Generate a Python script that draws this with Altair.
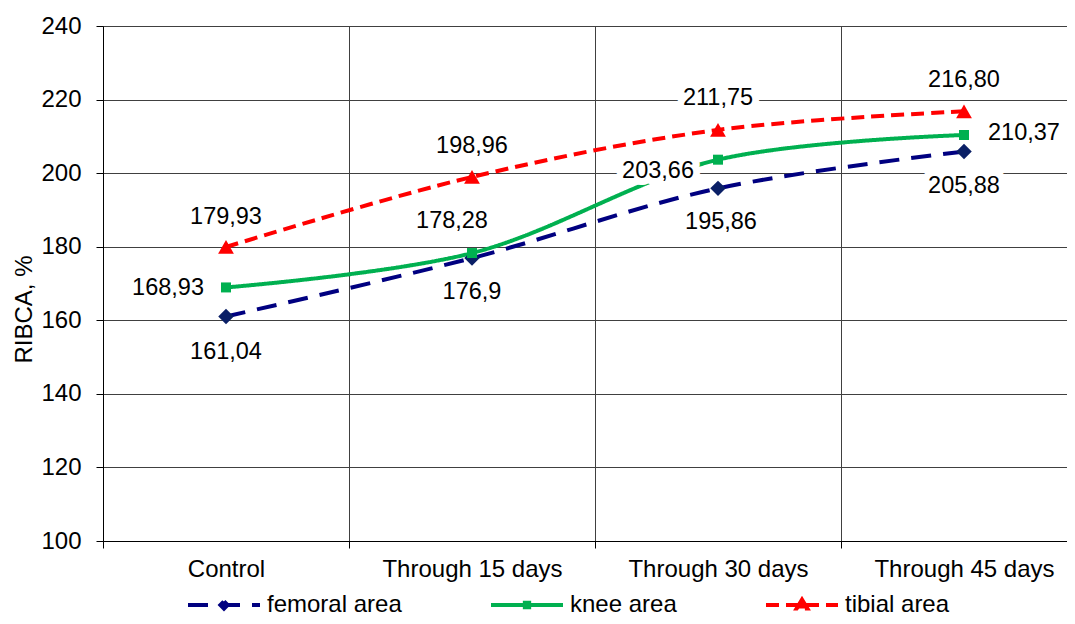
import altair as alt
import pandas as pd

categories = ["Control", "Through 15 days", "Through 30 days", "Through 45 days"]
series_names = ["femoral area", "knee area", "tibial area"]
femoral = [161.04, 176.9, 195.86, 205.88]
knee = [168.93, 178.28, 203.66, 210.37]
tibial = [179.93, 198.96, 211.75, 216.80]
femoral_labels = ["161,04", "176,9", "195,86", "205,88"]
knee_labels = ["168,93", "178,28", "203,66", "210,37"]
tibial_labels = ["179,93", "198,96", "211,75", "216,80"]
y_ticks = [100, 120, 140, 160, 180, 200, 220, 240]

rows = []
for s, vals, labs in zip(series_names, [femoral, knee, tibial],
                         [femoral_labels, knee_labels, tibial_labels]):
    for i, (c, v, l) in enumerate(zip(categories, vals, labs)):
        rows.append({"series": s, "category": c, "idx": i, "value": v, "label": l})
df = pd.DataFrame(rows)

# styling / layout
FONT = "Liberation Sans"
colors = ["#000080", "#00B050", "#FF0000"]
marker_colors = ["#0a1f66", "#00B050", "#FF0000"]
dashes = [[20, 12], [1, 0], [13, 7]]
shapes = ["diamond", "square", "triangle-up"]
sizes = [240, 100, 250]
legend_paths = [
    "M-1,0L1,0M0,-0.1L0.1,0L0,0.1L-0.1,0Z",
    "M-1,0L1,0M-0.06,-0.06L0.06,-0.06L0.06,0.06L-0.06,0.06Z",
    "M-1,0L1,0M0,-0.15L0.15,0.1L-0.15,0.1Z",
]
PLOT_W, PLOT_H = 964, 515
BAND_PX = 246  # one category interval in pixels (last interval is cut by the page edge)
x_max = -0.5 + PLOT_W / BAND_PX

n = len(categories)
x_values = sorted([i - 0.5 for i in range(n)] + list(range(n)))
cat_array = "[" + ",".join(f"'{c}'" for c in categories) + "]"
is_edge = "datum.value % 1 !== 0"

legend = alt.Legend(
    orient="none", legendX=83, legendY=541, direction="horizontal", title=None,
    labelFontSize=24, labelFont=FONT, labelColor="#000", labelOffset=5,
    columnPadding=81, symbolSize=5184, symbolStrokeWidth=4, symbolOpacity=1,
)

x_enc = alt.X(
    "idx:Q", title=None,
    scale=alt.Scale(domain=[-0.5, x_max], nice=False, zero=False),
    axis=alt.Axis(values=x_values, grid=True, gridColor="#404040", gridWidth=1,
                  gridOpacity={"condition": {"test": is_edge, "value": 1}, "value": 0},
                  tickOpacity={"condition": {"test": is_edge, "value": 1}, "value": 0},
                  labelExpr=f"datum.value % 1 === 0 ? {cat_array}[datum.value] : ''",
                  domainColor="#000", tickColor="#000", tickSize=7, labelPadding=9,
                  labelAngle=0, labelFontSize=24, labelFont=FONT, labelColor="#000",
                  labelLimit=400, labelOverlap=False, labelFlush=False),
)
y_enc = alt.Y(
    "value:Q", title="RIBCA, %",
    scale=alt.Scale(domain=[100, 240], nice=False, zero=False),
    axis=alt.Axis(values=y_ticks, grid=True, gridColor="#404040", gridWidth=1,
                  domainColor="#000", tickColor="#000", tickSize=7, labelPadding=15,
                  labelFontSize=24, labelFont=FONT, labelColor="#000",
                  titleFontSize=24, titleFont=FONT, titleFontWeight="normal",
                  titleColor="#000", titleX=-79, titleY=283, titleAngle=-90,
                  titleAlign="center", titleBaseline="middle"),
)

base = alt.Chart(df)

line_layers = []
point_layers = []
for s, col, dash, shp, sz, mc in zip(series_names, colors, dashes, shapes, sizes, marker_colors):
    sub = base.transform_filter(f"datum.series === '{s}'")
    line_layers.append(
        sub.mark_line(interpolate="catmull-rom", strokeWidth=4, stroke=col, strokeDash=dash)
        .encode(x=x_enc, y=y_enc)
    )
    point_layers.append(
        sub.mark_point(filled=True, opacity=1, shape=shp, size=sz, fill=mc, strokeWidth=0)
        .encode(x=x_enc, y=y_enc)
    )

# invisible layer that only supplies the legend (line + marker symbols)
legend_layer = base.mark_point(
    filled=True, opacity=0, size=5184, strokeWidth=4
).encode(
    x=x_enc, y=y_enc,
    stroke=alt.Stroke("series:N", scale=alt.Scale(domain=series_names, range=colors), legend=legend),
    fill=alt.Fill("series:N", scale=alt.Scale(domain=series_names, range=marker_colors), legend=legend),
    shape=alt.Shape("series:N", scale=alt.Scale(domain=series_names, range=legend_paths), legend=legend),
    strokeDash=alt.StrokeDash("series:N", scale=alt.Scale(domain=series_names, range=dashes), legend=legend),
)

# label placement (dx, dy, align) per series / category
placement = {
    "femoral area": [(0, 36, "center"), (0, 34, "center"), (3, 34, "center"), (0, 34, "center")],
    "knee area": [(-22, 1, "right"), (-20, -32, "center"), (-24, 11, "right"), (24, -2, "left")],
    "tibial area": [(0, -30, "center"), (0, -31, "center"), (0, -32, "center"), (0, -31, "center")],
}

halo_layers = []
text_layers = []
for s in series_names:
    for c, (dx, dy, al) in zip(categories, placement[s]):
        sub = base.transform_filter(f"datum.series === '{s}' && datum.category === '{c}'")
        halo_layers.append(sub.mark_text(dx=dx, dy=dy, align=al, baseline="middle",
                                         fontSize=23.5, font=FONT, color="white",
                                         stroke="white", strokeWidth=14, strokeJoin="round").encode(
            x=x_enc, y=y_enc, text="label:N"))
        text_layers.append(sub.mark_text(dx=dx, dy=dy, align=al, baseline="middle",
                                         fontSize=23.5, font=FONT, color="#000").encode(
            x=x_enc, y=y_enc, text="label:N"))

chart = alt.layer(*line_layers, *point_layers, legend_layer, *halo_layers, *text_layers).properties(
    width=PLOT_W, height=PLOT_H,
    autosize=alt.AutoSizeParams(type="none"),
    padding={"left": 95, "top": 18, "right": 0, "bottom": 75},
    background="white",
).configure_view(stroke=None).configure(font=FONT)

chart.save("out.html", embed_options={"renderer": "svg", "actions": False})
